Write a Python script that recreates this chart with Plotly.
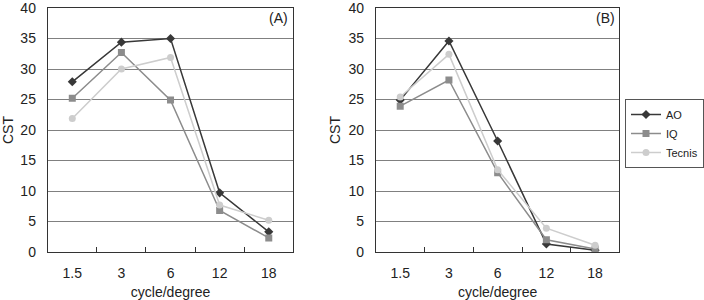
import plotly.graph_objects as go

categories = ["1.5", "3", "6", "12", "18"]
series_names = ["AO", "IQ", "Tecnis"]

# Panel A
a_AO = [27.9, 34.4, 35.0, 9.7, 3.3]
a_IQ = [25.2, 32.7, 24.9, 6.8, 2.3]
a_Tecnis = [21.9, 30.0, 31.9, 7.7, 5.2]

# Panel B
b_AO = [24.9, 34.6, 18.2, 1.3, 0.3]
b_IQ = [23.9, 28.2, 13.0, 2.0, 0.5]
b_Tecnis = [25.4, 32.4, 13.5, 3.9, 1.1]

panel_labels = ["(A)", "(B)"]
y_ticks = [0, 5, 10, 15, 20, 25, 30, 35, 40]

colors = {"AO": "#383838", "IQ": "#8c8c8c", "Tecnis": "#cdcdcd"}
symbols = {"AO": "diamond", "IQ": "square", "Tecnis": "circle"}
msize = {"AO": 7, "IQ": 7, "Tecnis": 7}

W, H = 704, 300
fig = go.Figure()

panels = [
    ("x", "y", {"AO": a_AO, "IQ": a_IQ, "Tecnis": a_Tecnis}, False),
    ("x2", "y2", {"AO": b_AO, "IQ": b_IQ, "Tecnis": b_Tecnis}, True),
]
for xa, ya, data, show in panels:
    for name in series_names:
        fig.add_trace(go.Scatter(
            x=categories, y=data[name], name=name, mode="lines+markers",
            xaxis=xa, yaxis=ya, showlegend=show,
            line=dict(color=colors[name], width=1.5),
            marker=dict(symbol=symbols[name], size=msize[name], color=colors[name]),
        ))

font_family = "Liberation Sans, Arial, sans-serif"
ydom = [(H - 252) / H, (H - 8) / H]

def xaxis(dom):
    return dict(
        domain=dom, type="category", categoryorder="array", categoryarray=categories,
        range=[-0.5, 4.5], tickson="boundaries", ticks="inside", ticklen=5,
        tickcolor="#333333", showline=True, mirror=True, linecolor="#333333", linewidth=1,
        showgrid=False, zeroline=False, ticklabelstandoff=8, automargin=False,
        tickfont=dict(size=14, color="#222222"),
        title=dict(text="cycle/degree", font=dict(size=14, color="#222222"), standoff=22),
    )

def yaxis(anchor):
    return dict(
        domain=ydom, anchor=anchor, range=[0, 40.0001], tickvals=y_ticks,
        showline=True, mirror=True, linecolor="#333333", linewidth=1,
        showgrid=True, gridcolor="#808080", gridwidth=1, zeroline=False,
        ticks="", tickfont=dict(size=14, color="#222222"), ticklabelstandoff=8,
        ticklabeloverflow="allow", automargin=False,
        title=dict(text="CST", font=dict(size=14, color="#222222"), standoff=4),
    )

fig.update_layout(
    width=W, height=H, margin=dict(l=0, r=0, t=0, b=0),
    paper_bgcolor="white", plot_bgcolor="white",
    font=dict(family=font_family, color="#222222"),
    xaxis=dict(**xaxis([48 / W, 295 / W]), anchor="y"),
    yaxis=yaxis("x"),
    xaxis2=dict(**xaxis([378 / W, 623 / W]), anchor="y2"),
    yaxis2=yaxis("x2"),
    legend=dict(
        x=629 / W, y=(H - 99) / H, xanchor="left", yanchor="top",
        bordercolor="#555555", borderwidth=1, bgcolor="white",
        font=dict(size=11, color="#222222"), itemwidth=30,
        tracegroupgap=0,
    ),
    annotations=[
        dict(text=panel_labels[0], xref="paper", yref="paper", x=292 / W, y=(H - 18) / H,
             xanchor="right", yanchor="middle", showarrow=False, font=dict(size=14, color="#222222")),
        dict(text=panel_labels[1], xref="paper", yref="paper", x=621 / W, y=(H - 18) / H,
             xanchor="right", yanchor="middle", showarrow=False, font=dict(size=14, color="#222222")),
    ],
)

fig.write_html("out.html")
